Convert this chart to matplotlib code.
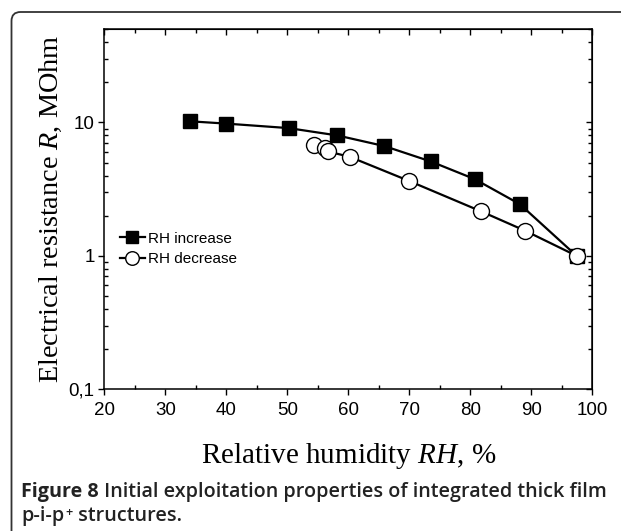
import numpy as np
import matplotlib
matplotlib.use("Agg")
import matplotlib.pyplot as plt
from matplotlib.patches import FancyBboxPatch
from matplotlib.transforms import IdentityTransform
from matplotlib.ticker import FixedLocator, FuncFormatter, LogLocator, MultipleLocator

# data
rh_inc = [34, 40, 50.2, 58.2, 65.9, 73.5, 80.7, 88.1, 97.4]
r_inc = [10.2, 9.8, 9.07, 7.99, 6.65, 5.10, 3.76, 2.44, 1.0]

rh_dec = [54.4, 56.2, 56.6, 60.2, 69.9, 81.8, 89.0, 97.4]
r_dec = [6.80, 6.38, 6.06, 5.53, 3.65, 2.15, 1.54, 1.0]

x_ticks = [20, 30, 40, 50, 60, 70, 80, 90, 100]
y_ticks = [0.1, 1, 10]
y_tick_labels = {0.1: "0,1", 1: "1", 10: "10"}

plt.rcParams["mathtext.fontset"] = "custom"
plt.rcParams["mathtext.rm"] = "Liberation Serif"
plt.rcParams["mathtext.it"] = "Liberation Serif:italic"

fig = plt.figure(figsize=(6.21, 5.31), dpi=100)

# rounded frame around the figure (runs off right and bottom edge)
frame = FancyBboxPatch((11.5, -30), 660, 549, boxstyle="round,pad=0,rounding_size=9",
                       transform=IdentityTransform(), fill=False, edgecolor="#333333",
                       linewidth=1.3, clip_on=False)
fig.patches.append(frame)

ax = fig.add_axes([0.168, 0.267, 0.786, 0.678])
ax.plot(rh_inc, r_inc, "-", color="black", lw=1.6, marker="s", ms=10.5,
        mfc="black", mec="black", label="RH increase", zorder=3)
ax.plot(rh_dec, r_dec, "-", color="black", lw=1.6, marker="o", ms=11.5,
        mfc="white", mec="black", mew=1.0, label="RH decrease", zorder=3)

ax.set_yscale("log")
ax.set_xlim(20, 100)
ax.set_ylim(0.1, 50)

ax.xaxis.set_major_locator(FixedLocator(x_ticks))
ax.xaxis.set_minor_locator(MultipleLocator(5))
ax.yaxis.set_major_locator(FixedLocator(y_ticks))
ax.yaxis.set_minor_locator(LogLocator(base=10, subs=np.arange(2, 10)))
ax.yaxis.set_major_formatter(FuncFormatter(lambda v, p: y_tick_labels.get(round(v, 3), "")))
ax.yaxis.set_minor_formatter(FuncFormatter(lambda v, p: ""))

ax.tick_params(which="major", direction="out", length=4, width=1, labelsize=13.5,
               top=False, right=False)
ax.tick_params(axis="x", which="major", pad=5)
ax.tick_params(axis="y", which="major", pad=3)
ax.tick_params(which="minor", direction="in", length=3, width=1, top=False, right=False)
for lab in ax.get_xticklabels() + ax.get_yticklabels():
    lab.set_fontfamily("Liberation Sans")
for sp in ax.spines.values():
    sp.set_linewidth(1.1)

# top and right axes: ticks pointing inward, no labels
sx = ax.secondary_xaxis("top")
sx.xaxis.set_major_locator(FixedLocator(x_ticks))
sx.xaxis.set_minor_locator(MultipleLocator(5))
sx.tick_params(which="both", direction="in", length=4, width=1, labeltop=False)
sx.tick_params(which="minor", length=3)
sy = ax.secondary_yaxis("right")
sy.set_yscale("log")
sy.yaxis.set_major_locator(FixedLocator(y_ticks))
sy.yaxis.set_minor_locator(LogLocator(base=10, subs=np.arange(2, 10)))
sy.tick_params(which="both", direction="in", length=4, width=1, labelright=False)
sy.tick_params(which="minor", length=3)

ax.set_xlabel(r"Relative humidity $\mathit{RH}$, %", fontsize=21,
              fontfamily="Liberation Serif", labelpad=16)
ax.set_ylabel(r"Electrical resistance $\mathit{R}$, MOhm", fontsize=20.3,
              fontfamily="Liberation Serif", labelpad=3)

leg = ax.legend(loc="upper left", bbox_to_anchor=(0.02, 0.455), frameon=False,
                handlelength=1.6, handletextpad=0.2, labelspacing=0.45, markerscale=0.85,
                borderaxespad=0, prop={"family": "Liberation Sans", "size": 11})

# caption
fs_cap = 14.2
cap_kw = dict(fontsize=fs_cap, fontfamily="Open Sans", color="#222222")
t1 = fig.text(21 / 621, 1 - 497 / 531, "Figure 8", fontweight="bold", va="baseline", **cap_kw)
ax.annotate(" Initial exploitation properties of integrated thick film", xy=(1, 0),
            xycoords=t1, va="bottom", fontweight="semibold", annotation_clip=False, **cap_kw)
t2 = fig.text(21 / 621, 1 - 521 / 531, "p-i-p", va="baseline", fontweight="semibold", **cap_kw)
ax.annotate("+", xy=(1, 1), xycoords=t2, xytext=(0.5, 0), textcoords="offset points",
            va="top", fontsize=9, fontfamily="Open Sans", color="#222222",
            fontweight="semibold", annotation_clip=False)
ax.annotate(" structures.", xy=(1, 0), xycoords=t2, xytext=(6, 0), textcoords="offset points",
            va="bottom", fontweight="semibold", annotation_clip=False, **cap_kw)

fig.savefig("out.png", dpi=100)
